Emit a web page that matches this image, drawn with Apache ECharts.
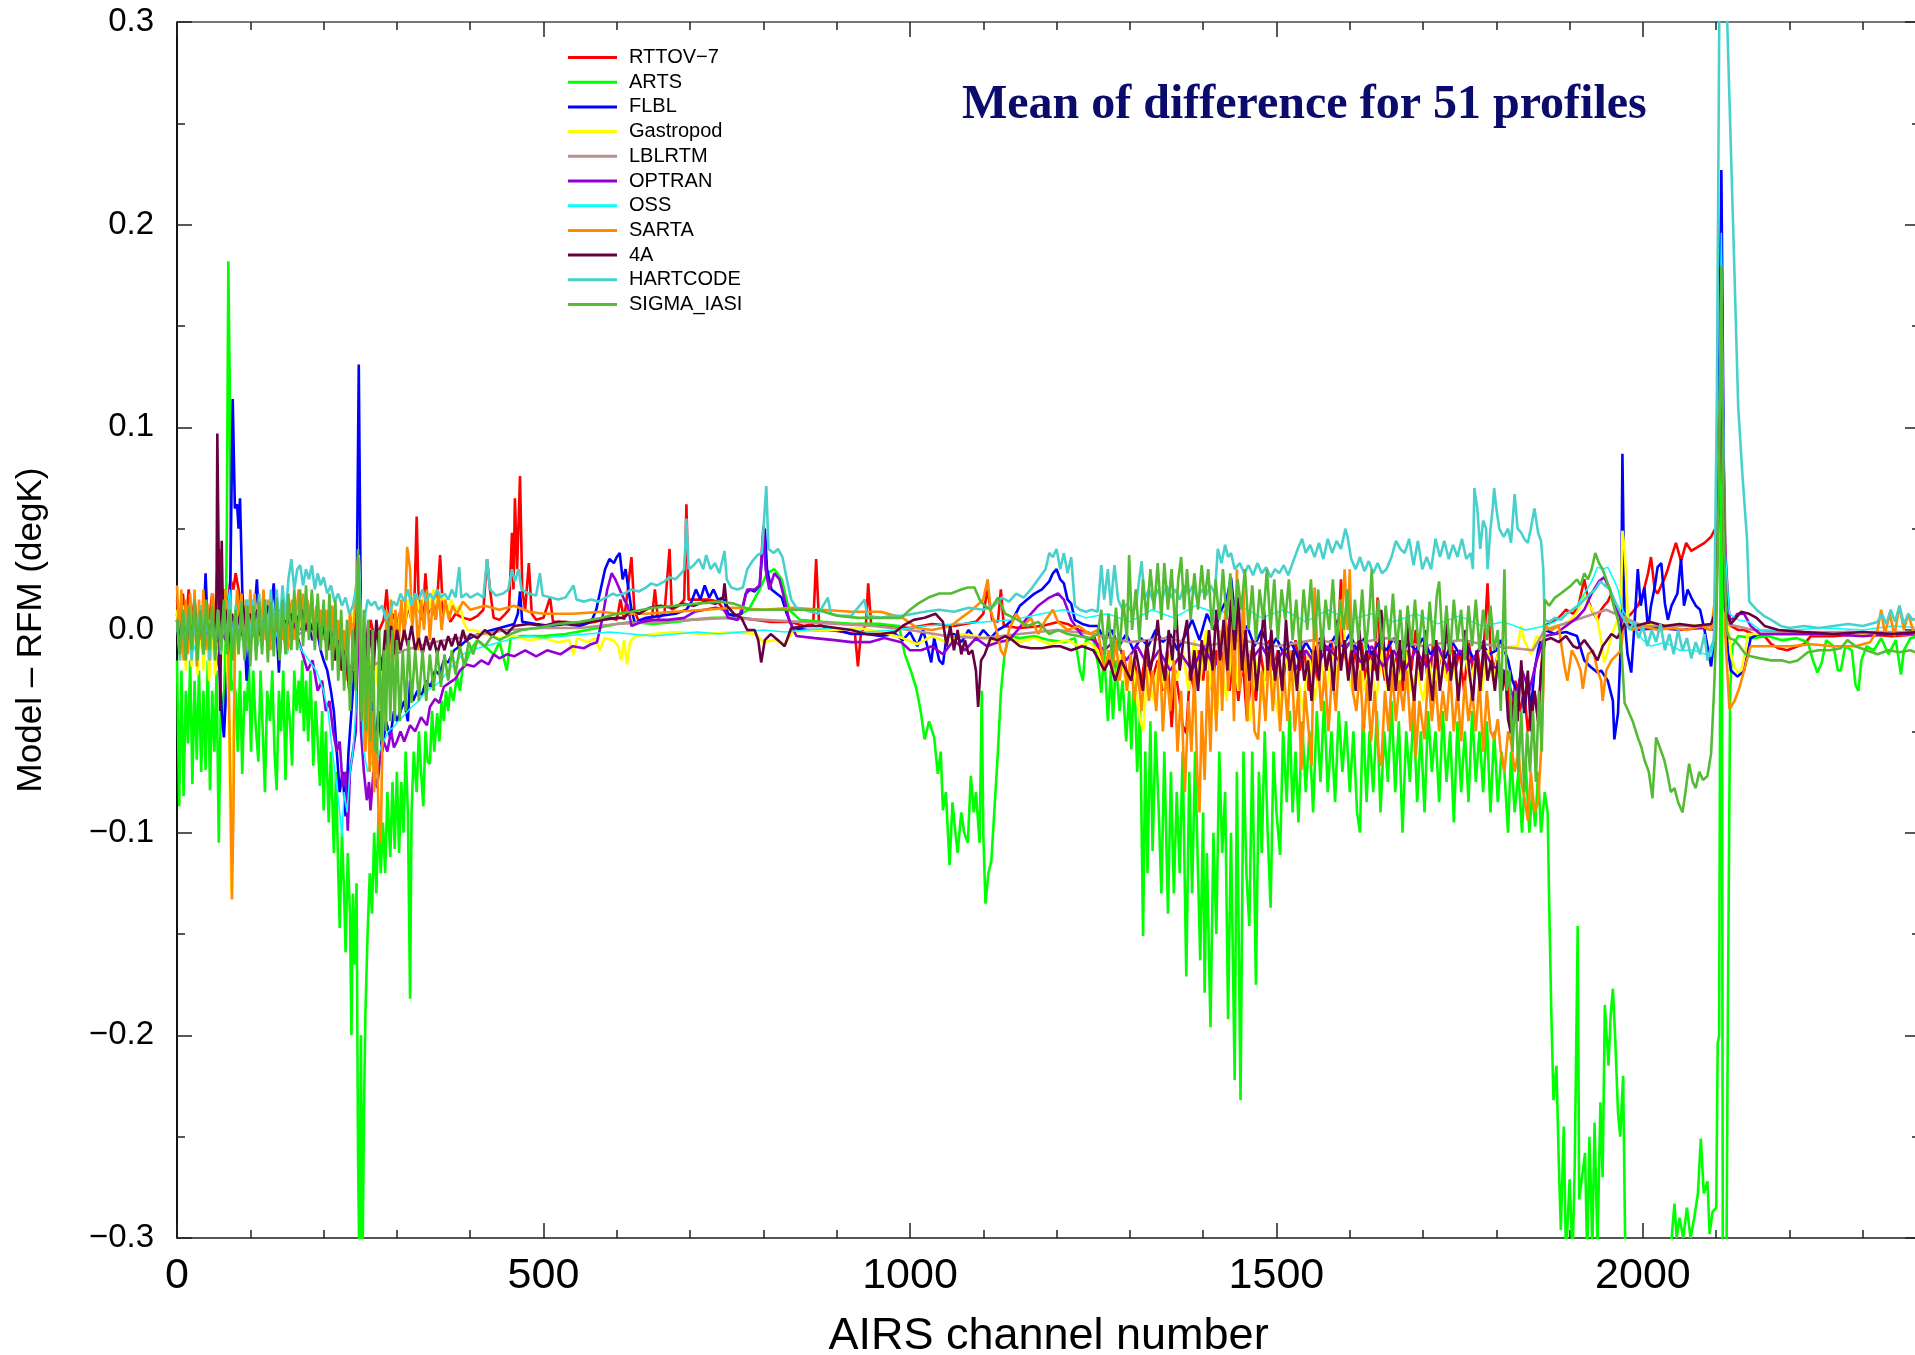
<!DOCTYPE html>
<html>
<head>
<meta charset="utf-8">
<script src="https://cdn.jsdelivr.net/npm/echarts@6/dist/echarts.min.js"></script>
<style>
html,body{margin:0;padding:0;background:#fff;overflow:hidden;}
#chart{width:1915px;height:1355px;}
</style>
</head>
<body>
<div id="chart"></div>
<script>
// ---- axis ticks / labels ----
const xTicks = [0, 500, 1000, 1500, 2000];
const yTicks = [-0.3, -0.2, -0.1, 0.0, 0.1, 0.2, 0.3];
const seriesNames = ['RTTOV\u22127','ARTS','FLBL','Gastropod','LBLRTM','OPTRAN','OSS','SARTA','4A','HARTCODE','SIGMA_IASI'];

// ---- data: [AIRS channel, Model - RFM (degK)] ----
const rttov7 = [[0,0.015],[4,0.0],[8,0.018],[12,0.003],[16,0.02],[20,0.005],[24,0.015],[28,-0.003],[32,0.012],[36,0.0],[40,0.015],[44,0.005],[48,0.018],[52,0.002],[55,0.03],[58,0.04],[61,0.01],[64,0.02],[67,0.005],[70,0.015],[73,0.025],[77,0.02],[80,0.028],[84,0.02],[88,0.012],[92,0.005],[96,0.01],
[100,0.004],[108,0.01],[116,0.005],[124,0.012],[132,0.004],[140,0.01],[148,0.003],[156,0.008],[164,0.002],[172,0.006],[180,0.0],[188,0.005],[196,-0.002],[204,0.004],[212,-0.005],[220,0.002],[228,-0.008],[236,0.0],[244,0.01],[248,0.02],[252,0.0],[258,-0.01],[264,0.005],[270,-0.005],[276,0.0],[282,0.005],[286,0.02],[290,0.0],[295,0.008],[300,0.002],
[305,0.01],[310,0.0],[315,0.012],[320,0.005],[324,0.015],[327,0.056],[330,0.01],[335,0.005],[339,0.028],[343,0.008],[348,0.015],[353,0.005],[359,0.037],[363,0.008],[368,0.012],[373,0.004],[380,0.008],[390,0.006],[400,0.005],[410,0.007],[418,0.01],[423,0.035],[427,0.02],[432,0.006],[440,0.005],[448,0.008],[453,0.01],[457,0.048],[459,0.02],[461,0.065],[464,0.03],[468,0.076],[471,0.02],[475,0.01],[480,0.033],[484,0.008],[490,0.005],[500,0.006],[509,0.016],[513,0.004],[530,0.004],[550,0.003],[570,0.004],[590,0.006],[600,0.005],
[605,0.015],[610,0.005],[615,0.02],[620,0.036],[624,0.01],[630,0.004],[640,0.005],[648,0.006],[652,0.02],[656,0.006],[665,0.008],[672,0.04],[675,0.01],[685,0.012],[692,0.015],[695,0.062],[698,0.015],[710,0.015],[725,0.015],[738,0.014],[750,0.008],[770,0.006],[790,0.005],[810,0.004],[838,0.004],[855,0.002],[868,0.003],[872,0.035],[876,0.003],[890,0.0],[910,-0.001],[925,-0.002],[929,-0.018],[933,-0.002],[940,0.003],[943,0.023],[947,0.003],[970,0.002],[1000,0.001],[1030,0.003],[1060,0.002],[1090,0.004],[1100,0.008],[1106,0.02],[1112,0.005],[1120,0.004],[1124,0.02],[1128,0.002],[1150,0.001],[1180,0.002],[1202,0.004],
[1215,0.003],[1230,0.0],[1250,-0.002],[1258,-0.01],[1266,-0.018],[1274,-0.01],[1282,-0.02],[1290,-0.01],[1298,-0.025],[1306,-0.015],[1314,-0.03],[1322,-0.01],[1330,-0.025],[1338,-0.015],[1345,-0.03],[1351,-0.01],[1357,-0.048],[1362,-0.02],[1368,-0.035],[1372,-0.047],[1377,-0.051],[1382,-0.02],[1388,-0.03],[1394,-0.01],[1400,-0.025],[1406,-0.005],[1412,-0.03],[1418,-0.01],[1424,-0.025],[1430,-0.005],[1436,-0.03],[1442,-0.01],[1448,-0.035],[1454,-0.015],[1460,-0.045],[1466,-0.02],[1472,-0.035],[1478,-0.01],[1484,-0.025],[1490,-0.005],[1496,-0.02],[1502,-0.01],[1508,-0.03],[1514,-0.01],[1520,-0.025],[1526,-0.005],[1532,-0.02],[1538,-0.01],[1544,-0.03],[1550,-0.01],[1556,-0.025],[1562,0.0],[1568,-0.02],[1574,-0.005],[1580,-0.015],[1586,0.01],[1588,0.025],[1592,-0.01],[1598,-0.02],[1604,-0.005],[1610,-0.02],[1616,-0.005],[1622,-0.025],[1628,-0.01],[1634,-0.02],[1638,0.016],[1642,-0.01],[1648,-0.025],[1654,-0.005],[1660,-0.02],[1666,-0.01],[1672,-0.03],[1678,-0.01],[1684,-0.02],[1690,0.0],[1696,-0.02],[1702,-0.01],[1708,-0.03],[1714,-0.005],[1720,-0.02],[1726,-0.01],[1732,-0.025],[1738,-0.005],[1744,-0.02],[1750,-0.01],[1756,-0.03],[1762,-0.005],[1768,-0.02],[1774,-0.01],[1780,-0.025],[1786,0.01],[1788,0.023],[1792,-0.01],[1797,-0.02],[1802,-0.012],[1808,-0.03],[1814,-0.02],[1820,-0.048],[1826,-0.025],[1832,-0.04],[1838,-0.03],[1843,-0.05],[1847,-0.04],[1852,-0.03],[1857,-0.045],[1861,-0.02],[1866,0.002],
[1875,0.004],[1885,0.006],[1895,0.01],[1905,0.008],[1912,0.012],[1920,0.025],[1925,0.015],[1930,0.01],[1938,0.005],[1943,0.01],[1947,0.012],[1952,0.014],[1957,0.018],[1962,0.01],[1968,0.005],[1975,0.005],[1984,0.008],[1993,0.012],[2000,0.018],[2007,0.028],[2011,0.036],[2016,0.02],[2020,0.018],[2025,0.022],[2029,0.025],[2034,0.03],[2038,0.035],[2045,0.043],[2052,0.034],[2059,0.043],[2066,0.039],[2075,0.041],[2084,0.043],[2093,0.046],[2100,0.051],[2107,0.16],[2112,0.03],[2116,0.012],[2120,0.002],[2130,0.0],[2138,0.0],[2150,-0.002],[2166,-0.003],[2175,-0.007],[2185,-0.009],[2197,-0.01],[2211,-0.008],[2220,-0.007],[2229,-0.003],[2260,-0.003],[2300,-0.002],[2340,-0.003],[2378,-0.002]];

const arts = [[0,-0.015],[3,-0.087],[6,-0.02],[9,-0.082],[12,-0.03],[15,-0.056],[18,-0.015],[21,-0.076],[24,-0.025],[27,-0.064],[30,-0.02],[33,-0.07],[36,-0.03],[39,-0.069],[42,-0.015],[45,-0.079],[48,-0.03],[51,-0.06],[54,-0.02],[57,-0.105],[60,-0.03],[63,-0.05],[66,-0.01],[68,0.05],[70,0.182],[72,0.12],[74,-0.03],[77,-0.025],[80,-0.031],
[83,-0.06],[86,-0.02],[89,-0.071],[92,-0.03],[95,-0.04],[98,-0.015],[101,-0.06],[104,-0.02],[107,-0.045],[111,-0.065],[114,-0.02],[117,-0.05],[120,-0.08],[123,-0.03],[127,-0.045],[130,-0.02],[133,-0.06],[136,-0.079],[139,-0.03],[142,-0.05],[145,-0.02],[148,-0.074],[151,-0.03],[154,-0.045],[157,-0.067],[160,-0.02],[163,-0.04],[166,-0.025],[168,-0.041],[171,-0.015],[173,-0.05],[176,-0.025],[179,-0.055],[182,-0.02],[186,-0.067],[189,-0.035],[192,-0.055],[195,-0.077],[198,-0.04],[200,-0.089],
[203,-0.05],[207,-0.095],[210,-0.06],[214,-0.11],[217,-0.07],[220,-0.12],[222,-0.147],[225,-0.1],[228,-0.13],[230,-0.159],[233,-0.11],[236,-0.14],[238,-0.2],[240,-0.13],[242,-0.165],[245,-0.125],[247,-0.26],[249,-0.32],[251,-0.2],[253,-0.32],[255,-0.24],[257,-0.19],[260,-0.15],[263,-0.12],[266,-0.14],[269,-0.1],[272,-0.13],[275,-0.09],[278,-0.12],[281,-0.095],[284,-0.12],[287,-0.08],[291,-0.112],[294,-0.075],[297,-0.108],[300,-0.07],
[303,-0.11],[306,-0.075],[309,-0.1],[312,-0.06],[315,-0.09],[318,-0.182],[320,-0.09],[323,-0.06],[327,-0.08],[330,-0.05],[333,-0.07],[336,-0.087],[339,-0.05],[342,-0.065],[345,-0.066],[348,-0.04],[351,-0.06],[355,-0.041],[358,-0.055],[361,-0.035],[364,-0.045],[367,-0.03],[370,-0.04],[373,-0.028],[377,-0.035],[382,-0.023],[386,-0.03],[390,-0.018],[395,-0.015],[400,-0.01],[410,-0.005],[420,-0.008],[432,-0.012],[440,-0.006],[450,-0.02],[455,-0.004],[470,-0.003],[500,-0.003],[530,-0.002],
[560,0.0],[600,0.003],[620,0.004],[650,0.003],[680,0.004],[700,0.005],[730,0.006],[760,0.006],[780,0.01],[795,0.02],[805,0.028],[815,0.03],[825,0.025],[835,0.01],[850,0.005],[880,0.004],[920,0.003],[960,0.003],[985,0.002],[993,-0.012],[1002,-0.021],[1008,-0.028],[1011,-0.033],[1015,-0.041],[1020,-0.054],[1026,-0.045],[1033,-0.053],[1038,-0.071],[1042,-0.06],[1045,-0.089],[1049,-0.08],[1054,-0.116],[1058,-0.085],[1062,-0.1],[1065,-0.11],[1070,-0.09],[1074,-0.1],[1079,-0.105],[1083,-0.072],[1087,-0.09],[1090,-0.08],[1095,-0.105],[1098,-0.03],[1100,-0.1],[1103,-0.135],[1107,-0.12],[1111,-0.114],[1115,-0.09],[1120,-0.06],[1124,-0.031],[1129,-0.012],[1135,-0.003],
[1150,-0.004],[1170,-0.003],[1190,-0.005],[1210,-0.006],[1225,-0.004],[1232,-0.02],[1236,-0.025],[1240,-0.005],[1250,-0.004],
[1258,-0.02],[1261,-0.031],[1265,-0.01],[1270,-0.045],[1274,-0.02],[1277,-0.044],[1281,-0.015],[1286,-0.04],[1290,-0.025],[1295,-0.055],[1299,-0.03],[1302,-0.059],[1306,-0.02],[1310,-0.07],[1314,-0.04],[1318,-0.151],[1321,-0.06],[1324,-0.12],[1328,-0.045],[1331,-0.109],[1335,-0.05],[1339,-0.085],[1343,-0.13],[1347,-0.06],[1352,-0.14],[1356,-0.07],[1360,-0.13],[1364,-0.08],[1368,-0.12],[1372,-0.06],[1377,-0.171],[1381,-0.07],[1385,-0.13],[1389,-0.06],[1393,-0.12],[1396,-0.163],[1400,-0.09],[1402,-0.179],[1405,-0.11],[1410,-0.196],[1414,-0.1],[1418,-0.15],[1422,-0.06],[1426,-0.11],[1430,-0.08],[1434,-0.192],[1438,-0.1],[1443,-0.222],[1446,-0.07],[1451,-0.232],[1455,-0.06],[1459,-0.12],[1463,-0.146],[1467,-0.06],[1472,-0.175],[1476,-0.07],[1480,-0.11],[1484,-0.05],[1488,-0.1],[1492,-0.137],[1496,-0.06],[1500,-0.09],[1505,-0.111],[1509,-0.05],[1514,-0.085],[1518,-0.04],[1522,-0.09],[1526,-0.06],[1530,-0.095],[1535,-0.045],[1540,-0.08],[1545,-0.05],[1550,-0.09],[1555,-0.04],[1560,-0.075],[1565,-0.035],[1570,-0.08],[1575,-0.05],[1580,-0.085],[1585,-0.04],[1590,-0.07],[1595,-0.045],[1600,-0.08],[1605,-0.05],[1610,-0.09],[1614,-0.1],[1618,-0.04],[1623,-0.085],[1627,-0.05],[1632,-0.08],[1637,-0.04],[1642,-0.09],[1647,-0.05],[1652,-0.075],[1657,-0.035],[1662,-0.08],[1667,-0.045],[1672,-0.1],[1677,-0.05],[1682,-0.075],[1687,-0.04],[1692,-0.085],[1697,-0.05],[1702,-0.09],[1707,-0.04],[1712,-0.07],[1717,-0.05],[1722,-0.085],[1727,-0.04],[1732,-0.075],[1737,-0.05],[1742,-0.095],[1747,-0.045],[1752,-0.08],[1757,-0.05],[1762,-0.085],[1767,-0.04],[1772,-0.075],[1777,-0.05],[1782,-0.08],[1787,-0.045],[1792,-0.09],[1797,-0.05],[1802,-0.085],[1807,-0.06],[1811,-0.07],[1816,-0.1],[1820,-0.06],[1825,-0.09],[1830,-0.07],[1835,-0.1],[1840,-0.065],[1845,-0.1],[1849,-0.08],[1853,-0.097],[1857,-0.07],[1861,-0.1],[1866,-0.08],[1870,-0.09],
[1872,-0.133],[1875,-0.189],[1878,-0.232],[1882,-0.215],[1885,-0.26],[1888,-0.296],[1892,-0.245],[1895,-0.31],[1900,-0.271],[1904,-0.31],[1907,-0.263],[1911,-0.146],[1913,-0.281],[1917,-0.27],[1921,-0.258],[1924,-0.31],[1927,-0.25],[1931,-0.305],[1934,-0.243],[1938,-0.305],[1942,-0.233],[1945,-0.27],[1948,-0.185],[1953,-0.215],[1956,-0.19],[1959,-0.177],[1962,-0.2],[1966,-0.238],[1969,-0.25],[1973,-0.22],[1976,-0.31],[1990,-0.33],[2010,-0.33],[2030,-0.32],[2038,-0.305],[2043,-0.283],[2046,-0.3],[2050,-0.29],[2055,-0.3],[2060,-0.285],[2065,-0.3],[2070,-0.29],[2075,-0.278],[2079,-0.251],[2083,-0.278],[2088,-0.272],[2091,-0.298],[2095,-0.287],[2100,-0.285],[2102,-0.204],[2104,-0.2],[2107,0.185],[2109,-0.31],[2114,-0.31],[2116,-0.183],[2119,-0.03],[2122,-0.008],
[2130,-0.003],[2150,-0.004],[2170,-0.003],[2190,-0.005],[2210,-0.004],[2225,-0.006],[2232,-0.015],[2238,-0.021],[2244,-0.016],[2250,-0.005],[2260,-0.008],[2266,-0.02],[2270,-0.02],[2276,-0.008],[2285,-0.01],[2290,-0.027],[2294,-0.03],[2298,-0.015],[2305,-0.008],[2315,-0.01],[2325,-0.004],[2335,-0.012],[2345,-0.005],[2352,-0.022],[2356,-0.01],[2365,-0.004],[2378,-0.003]];

const flbl = [[0,0.008],[4,-0.005],[8,0.01],[12,-0.008],[16,0.006],[20,-0.01],[24,0.005],[28,-0.006],[32,0.008],[36,0.0],[39,0.028],[42,0.0],[46,-0.01],[50,0.005],[54,-0.008],[58,-0.02],[61,-0.04],[64,-0.053],[67,-0.03],[70,-0.01],[73,0.03],[76,0.114],[79,0.06],[82,0.062],[84,0.05],[86,0.065],[89,0.02],[92,0.0],[95,-0.025],[98,-0.01],
[102,0.0],[106,0.01],[109,0.025],[112,0.005],[118,0.008],[124,0.0],[128,0.01],[132,0.023],[136,0.0],[139,-0.021],[142,0.0],[148,0.005],[155,0.0],[162,0.006],[170,0.0],[178,0.004],[185,-0.005],[191,0.0],
[196,-0.01],[200,-0.015],[205,-0.02],[210,-0.03],[214,-0.04],[218,-0.06],[222,-0.08],[226,-0.07],[230,-0.092],[234,-0.06],[238,-0.04],[242,-0.02],[245,0.01],[248,0.131],[251,0.0],[254,-0.04],[258,-0.03],[262,-0.05],[266,-0.035],[270,-0.055],[275,-0.04],[280,-0.06],[285,-0.045],[291,-0.053],[296,-0.04],[300,-0.045],
[305,-0.04],[310,-0.035],[315,-0.045],[318,-0.025],[322,-0.035],[328,-0.03],[334,-0.032],[340,-0.025],[346,-0.028],[352,-0.02],[358,-0.022],[364,-0.015],[370,-0.016],[378,-0.01],[386,-0.008],[395,-0.005],[405,-0.003],[420,-0.001],[440,0.001],[460,0.003],[465,0.008],[468,0.019],[471,0.004],[490,0.003],[510,0.002],[530,0.003],[550,0.002],[565,0.004],[572,0.01],[578,0.02],[584,0.03],[590,0.035],[596,0.033],[600,0.036],
[604,0.038],[608,0.025],[612,0.03],[616,0.02],[620,0.01],[625,0.003],[632,0.005],[640,0.006],[660,0.007],[680,0.008],[695,0.01],[702,0.014],[708,0.02],[714,0.015],[720,0.022],[726,0.016],[732,0.02],[738,0.015],[745,0.016],[752,0.008],[760,0.007],[770,0.008],[776,0.018],[782,0.02],[788,0.019],[795,0.022],[799,0.04],[802,0.05],[805,0.03],[811,0.02],[818,0.018],[825,0.016],[832,0.008],[840,0.001],[860,0.0],[880,0.0],[900,0.0],[920,-0.002],[940,-0.002],[960,-0.003],[980,-0.002],[990,-0.005],[1000,-0.001],[1010,-0.008],[1018,0.0],[1025,-0.01],[1029,-0.016],[1033,-0.004],[1040,-0.015],[1045,-0.017],[1050,-0.003],[1060,-0.002],[1070,-0.006],[1080,0.0],[1090,-0.005],[1100,0.0],[1110,-0.004],[1120,0.0],[1130,0.002],[1140,0.005],[1150,0.012],[1160,0.015],[1170,0.018],[1180,0.02],[1190,0.024],[1195,0.028],[1200,0.03],
[1205,0.025],[1210,0.023],[1215,0.015],[1220,0.013],[1225,0.005],[1235,0.003],[1245,0.002],[1256,0.002],[1265,-0.005],[1275,0.0],[1285,-0.008],[1295,-0.002],[1305,-0.01],[1315,-0.004],[1325,-0.008],[1335,0.0],[1345,-0.006],[1355,-0.002],[1365,-0.01],[1375,-0.003],[1385,0.005],[1395,-0.005],[1405,0.008],[1415,0.0],[1425,0.01],[1432,0.015],[1438,0.026],[1444,0.005],[1450,-0.004],[1460,0.002],[1470,-0.008],[1480,0.0],[1490,-0.01],[1500,-0.004],[1510,-0.012],[1520,-0.006],[1530,-0.014],[1540,-0.006],[1550,-0.012],[1560,-0.004],[1570,-0.01],[1580,-0.003],[1590,-0.008],[1600,-0.002],[1610,-0.01],[1620,-0.004],[1630,-0.012],[1640,-0.006],[1650,-0.01],[1660,-0.004],[1670,-0.012],[1680,-0.006],[1690,-0.01],[1700,-0.004],[1710,-0.012],[1720,-0.008],[1730,-0.014],[1740,-0.006],[1750,-0.012],[1760,-0.008],[1770,-0.015],[1780,-0.006],[1790,-0.012],[1800,-0.01],[1806,-0.005],[1811,-0.01],[1816,-0.015],[1822,-0.025],[1829,-0.031],[1834,-0.02],[1838,-0.041],[1843,-0.025],[1847,-0.04],[1852,-0.02],[1857,-0.01],[1861,-0.004],[1866,0.0],
[1880,-0.002],[1895,-0.001],[1910,-0.003],[1920,-0.015],[1928,-0.018],[1938,-0.021],[1943,-0.02],[1952,-0.025],[1959,-0.035],[1961,-0.054],[1966,-0.041],[1970,-0.005],[1972,0.087],[1975,0.005],[1979,-0.012],[1984,-0.021],[1988,0.0],[1993,0.03],[1997,0.012],[2002,0.021],[2007,0.0],[2011,0.012],[2016,0.021],[2020,0.031],[2025,0.033],[2030,0.013],[2034,0.005],[2039,0.012],[2047,0.018],[2052,0.035],[2056,0.012],[2061,0.02],[2066,0.016],[2072,0.012],[2078,0.01],[2084,0.0],[2088,-0.008],[2093,-0.018],[2097,-0.005],[2102,0.05],[2107,0.227],[2111,0.05],[2116,-0.01],[2120,-0.02],[2129,-0.023],[2138,-0.02],[2147,-0.004],[2157,-0.002],[2188,-0.002],[2230,-0.002],[2280,-0.001],[2330,-0.002],[2378,-0.001]];

const gastropod = [[0,0.01],[4,-0.015],[8,0.012],[12,-0.02],[16,0.008],[20,-0.018],[24,0.01],[28,-0.022],[32,0.005],[36,-0.02],[40,0.008],[44,-0.025],[48,0.005],[52,-0.022],[56,0.0],[60,-0.015],[64,0.005],[68,-0.01],[71,-0.05],[74,-0.13],[77,-0.05],[80,0.0],[85,0.01],[90,-0.005],[95,0.008],[100,-0.003],
[108,0.006],[116,-0.004],[124,0.006],[132,-0.005],[140,0.008],[148,-0.005],[156,0.01],[164,-0.004],[172,0.01],[180,0.0],[188,0.01],[196,-0.002],[204,0.006],[212,-0.006],[220,0.004],[228,-0.01],[236,0.0],[242,0.01],[246,0.03],[248,0.037],[250,0.01],[253,-0.005],[257,-0.02],[261,-0.01],[265,-0.025],[270,-0.015],[275,-0.03],[280,-0.035],[284,-0.02],[288,0.0],[292,-0.01],[296,0.005],[300,-0.005],
[305,0.01],[310,0.0],[315,0.015],[320,0.005],[326,0.018],[332,0.008],[338,0.018],[344,0.01],[350,0.02],[356,0.01],[362,0.018],[368,0.008],[374,0.015],[380,0.01],[386,0.012],[391,0.004],[396,0.0],[405,0.0],[420,-0.002],[440,-0.004],[460,-0.003],[480,-0.005],[500,-0.004],[520,-0.006],[535,-0.005],[541,-0.012],[546,-0.004],[560,-0.006],[570,-0.004],[577,-0.01],[583,-0.004],[595,-0.005],
[602,-0.008],[606,-0.015],[610,-0.005],[614,-0.017],[618,-0.006],[625,-0.003],[650,-0.002],[680,-0.001],[720,-0.002],[760,-0.001],[790,-0.002],[800,-0.006],[815,-0.005],[829,-0.007],[840,-0.001],[870,0.0],[900,0.0],[930,0.001],[960,-0.001],[990,-0.004],[1010,-0.007],[1030,-0.003],[1050,-0.006],[1070,-0.002],[1090,-0.003],[1110,-0.005],[1130,-0.003],[1150,-0.006],[1170,-0.004],[1190,-0.007],[1202,-0.006],
[1215,-0.005],[1230,-0.008],[1245,-0.006],[1256,-0.01],[1264,-0.02],[1272,-0.01],[1280,-0.025],[1288,-0.012],[1296,-0.03],[1304,-0.015],[1312,-0.04],[1318,-0.05],[1324,-0.02],[1332,-0.035],[1340,-0.015],[1348,-0.03],[1356,-0.01],[1364,-0.025],[1372,-0.01],[1380,-0.03],[1388,-0.005],[1396,-0.025],[1404,0.0],[1412,-0.03],[1418,-0.045],[1424,-0.015],[1432,-0.035],[1440,-0.005],[1448,-0.03],[1456,-0.01],[1464,-0.045],[1472,-0.015],[1480,-0.035],[1488,-0.01],[1496,-0.03],[1504,-0.045],[1512,-0.01],[1520,-0.03],[1528,-0.02],[1536,-0.04],[1544,-0.01],[1552,-0.035],[1560,-0.015],[1568,-0.03],[1576,-0.01],[1584,-0.025],[1590,0.015],[1596,-0.02],[1604,-0.03],[1612,-0.01],[1620,-0.03],[1628,-0.015],[1636,-0.035],[1644,-0.01],[1652,-0.03],[1660,-0.015],[1668,-0.025],[1676,-0.01],[1684,-0.03],[1692,-0.02],[1700,-0.035],[1708,-0.015],[1716,-0.03],[1724,-0.01],[1732,-0.025],[1740,-0.015],[1748,-0.03],[1756,-0.01],[1764,-0.025],[1772,-0.015],[1780,-0.03],[1788,-0.01],[1796,-0.025],[1802,-0.012],[1811,-0.01],[1820,-0.008],[1829,-0.008],[1834,0.002],[1838,-0.005],[1847,-0.012],[1855,-0.003],[1861,-0.005],[1866,0.0],
[1880,0.002],[1893,0.003],[1905,0.006],[1912,0.01],[1920,0.018],[1927,0.012],[1934,0.008],[1938,0.005],[1943,-0.005],[1947,-0.016],[1952,-0.01],[1957,-0.003],[1965,0.005],[1970,0.012],[1972,0.049],[1975,0.04],[1980,0.004],[1993,0.003],[2020,0.002],[2050,0.003],[2080,0.002],[2097,0.003],[2102,0.05],[2107,0.14],[2112,0.02],[2120,-0.012],[2125,-0.018],[2129,-0.021],[2134,-0.02],[2140,-0.01],[2143,-0.002],[2160,-0.002],[2200,-0.002],[2250,-0.002],[2300,-0.002],[2340,-0.002],[2378,-0.002]];

const lblrtm = [[0,0.002],[20,-0.004],[40,0.004],[60,-0.003],[80,0.004],[100,-0.002],[130,0.003],[160,-0.003],[190,0.002],[220,-0.01],[240,-0.02],[248,0.02],[255,-0.02],[280,-0.015],[310,-0.01],[350,-0.006],[400,-0.003],[450,0.0],[500,0.001],[550,0.001],[600,0.003],[650,0.004],[700,0.005],[750,0.006],[800,0.005],[850,0.004],[900,0.003],[950,0.002],[1000,0.0],[1050,-0.003],[1100,-0.004],[1150,-0.002],[1200,0.0],[1250,-0.002],[1300,-0.006],[1350,-0.004],[1400,-0.008],[1450,-0.005],[1500,-0.008],[1550,-0.005],[1600,-0.007],[1650,-0.004],[1700,-0.008],[1750,-0.005],[1800,-0.008],[1850,-0.01],[1866,0.0],[1900,0.004],[1950,0.01],[2000,0.002],[2050,0.002],[2097,0.002],[2107,0.14],[2115,0.003],[2150,0.0],[2200,-0.001],[2300,-0.001],[2378,-0.001]];

const optran = [[0,0.005],[6,-0.005],[12,0.006],[18,-0.006],[24,0.004],[30,-0.004],[36,0.006],[42,-0.005],[48,0.004],[54,-0.006],[60,0.003],[66,-0.005],[72,0.005],[78,0.0],[84,0.006],[90,-0.004],[96,0.005],[102,-0.004],[108,0.005],[114,-0.003],[120,0.004],[130,-0.004],[140,0.003],[150,-0.005],[160,0.002],[170,-0.01],[178,-0.02],[185,-0.015],[192,-0.03],[198,-0.025],
[203,-0.04],[208,-0.035],[213,-0.05],[218,-0.06],[222,-0.055],[226,-0.077],[230,-0.07],[233,-0.099],[236,-0.07],[240,-0.06],[244,-0.05],[248,0.02],[251,-0.05],[255,-0.07],[259,-0.084],[262,-0.075],[264,-0.089],[268,-0.07],[273,-0.078],[278,-0.06],[282,-0.055],[287,-0.06],[292,-0.05],[296,-0.058],[300,-0.055],[305,-0.05],[310,-0.055],[318,-0.047],[325,-0.05],[333,-0.043],[341,-0.047],[345,-0.038],[352,-0.034],[358,-0.036],[364,-0.028],[372,-0.026],[380,-0.024],[386,-0.02],[395,-0.017],[405,-0.018],[415,-0.015],[425,-0.017],[432,-0.012],[440,-0.014],[450,-0.012],[460,-0.013],[475,-0.01],[490,-0.013],[505,-0.01],[523,-0.012],[540,-0.008],[555,-0.009],[565,-0.007],[573,-0.006],[580,0.005],[587,0.02],[593,0.028],[598,0.025],
[604,0.02],[610,0.015],[615,0.012],[620,0.002],[634,0.004],[650,0.005],[670,0.005],[692,0.006],[706,0.009],[720,0.01],[735,0.011],[747,0.01],[752,0.006],[765,0.005],[772,0.012],[778,0.02],[788,0.02],[795,0.022],[800,0.051],[803,0.03],[808,0.02],[815,0.028],[822,0.025],[829,0.015],[835,0.005],[845,-0.003],[870,-0.004],[897,-0.005],[920,-0.006],[945,-0.006],[965,-0.004],[988,-0.006],[1000,-0.01],[1015,-0.01],[1030,-0.008],[1045,-0.012],[1060,-0.005],[1075,-0.01],[1090,-0.004],[1105,-0.008],[1120,-0.006],[1135,-0.005],[1147,0.0],[1160,0.006],[1175,0.012],[1190,0.016],[1202,0.018],
[1210,0.015],[1220,0.005],[1235,-0.003],[1250,-0.005],[1265,-0.01],[1280,-0.005],[1295,-0.015],[1310,-0.008],[1325,-0.018],[1340,-0.01],[1355,-0.02],[1370,-0.012],[1385,-0.02],[1400,-0.008],[1415,-0.018],[1430,-0.01],[1440,0.015],[1450,-0.005],[1465,-0.015],[1480,-0.008],[1495,-0.018],[1510,-0.01],[1525,-0.02],[1540,-0.01],[1555,-0.018],[1570,-0.008],[1585,-0.015],[1600,-0.006],[1615,-0.016],[1630,-0.008],[1645,-0.018],[1660,-0.01],[1675,-0.02],[1690,-0.01],[1705,-0.018],[1720,-0.008],[1735,-0.02],[1750,-0.01],[1765,-0.016],[1780,-0.008],[1795,-0.018],[1810,-0.02],[1825,-0.035],[1835,-0.02],[1845,-0.03],[1855,-0.015],[1866,-0.003],
[1880,-0.002],[1895,0.002],[1910,0.006],[1920,0.01],[1930,0.018],[1940,0.024],[1947,0.026],[1955,0.02],[1962,0.012],[1970,0.005],[1978,0.002],[1993,0.0],[2020,0.001],[2050,0.0],[2080,0.001],[2097,0.0],[2102,0.05],[2107,0.15],[2112,0.04],[2118,0.005],[2125,0.006],[2129,0.008],[2138,0.008],[2147,0.002],[2160,-0.002],[2200,-0.002],[2250,-0.002],[2300,-0.003],[2340,-0.002],[2378,-0.002]];

const oss = [[0,0.0],[8,-0.008],[16,0.005],[24,-0.01],[32,0.004],[40,-0.008],[48,0.004],[56,-0.01],[64,0.0],[72,0.02],[76,-0.01],[84,0.0],[92,-0.008],[100,0.004],[110,-0.008],[120,0.005],[130,-0.01],[140,0.004],[150,-0.012],[160,0.0],[170,-0.01],[180,-0.015],[190,-0.02],[200,-0.03],[206,-0.04],[212,-0.06],[218,-0.077],[222,-0.09],[225,-0.102],[228,-0.08],[232,-0.09],[236,-0.07],[240,-0.06],[244,-0.04],[248,0.03],[251,-0.03],[255,-0.06],[260,-0.07],[265,-0.065],[270,-0.07],[276,-0.06],[282,-0.055],[288,-0.05],[295,-0.048],[302,-0.045],[310,-0.042],[320,-0.038],[330,-0.035],[340,-0.03],[350,-0.028],[360,-0.025],[370,-0.02],[380,-0.016],[390,-0.012],[400,-0.01],[420,-0.008],[440,-0.006],[460,-0.004],[480,-0.003],[500,-0.004],[530,-0.003],[560,-0.002],[590,-0.001],
[620,-0.002],[650,-0.003],[680,-0.002],[710,-0.001],[740,-0.002],[770,-0.001],[800,0.0],[830,-0.001],[860,0.0],[900,0.001],[940,-0.001],[980,0.0],[1020,0.002],[1060,0.003],[1100,0.004],[1140,0.005],[1180,0.008],[1210,0.01],[1240,0.006],[1270,0.008],[1300,0.004],[1330,0.01],[1360,0.006],[1390,0.012],[1420,0.008],[1450,0.012],[1480,0.006],[1510,0.01],[1540,0.004],[1570,0.01],[1600,0.005],[1630,0.008],[1660,0.004],[1690,0.008],[1720,0.003],[1750,0.007],[1780,0.002],[1810,0.004],[1840,0.0],[1866,0.002],
[1880,0.004],[1895,0.008],[1910,0.012],[1920,0.018],[1930,0.024],[1938,0.031],[1945,0.03],[1952,0.031],[1960,0.025],[1966,0.02],[1972,0.01],[1980,0.005],[1990,0.0],[2000,-0.005],[2011,-0.008],[2030,-0.006],[2050,-0.01],[2070,-0.01],[2093,-0.013],[2100,0.0],[2107,0.196],[2112,0.04],[2118,0.008],[2130,0.005],[2145,0.004],[2160,0.0],[2200,0.0],[2250,0.001],[2300,0.0],[2340,0.002],[2378,0.001]];

const sarta = [[0,0.022],[3,-0.005],[6,0.02],[9,-0.015],[12,0.015],[15,-0.012],[18,0.018],[21,-0.01],[24,0.02],[27,-0.018],[30,0.015],[33,-0.005],[36,0.02],[39,-0.01],[42,0.012],[45,-0.015],[48,0.018],[51,0.0],[54,0.025],[57,0.005],[60,0.03],[63,0.0],[66,0.02],[70,-0.01],[73,-0.08],[75,-0.133],[77,-0.09],[79,0.0],
[82,0.02],[85,0.005],[88,0.018],[91,-0.005],[94,0.015],[97,-0.01],[100,0.02],[103,0.0],[106,0.018],[109,-0.008],[112,0.015],[115,0.0],[118,0.02],[121,-0.005],[124,0.015],[127,-0.01],[130,0.012],[133,0.0],[136,0.015],[139,-0.01],[142,0.01],[145,-0.005],[148,0.012],[151,-0.01],[154,0.008],[157,0.015],[160,-0.005],[163,0.01],[166,0.02],[169,0.005],[172,0.018],[175,0.0],[178,0.015],[181,0.005],[184,0.018],[187,-0.005],[190,0.012],[193,0.0],[196,0.01],[200,-0.005],
[204,0.01],[208,-0.01],[212,0.012],[216,-0.015],[220,0.005],[224,-0.02],[228,0.0],[232,-0.025],[236,0.01],[240,-0.01],[244,0.02],[247,0.036],[249,0.01],[251,-0.04],[254,-0.02],[257,-0.06],[260,-0.03],[263,-0.07],[266,-0.04],[269,-0.08],[272,-0.05],[275,-0.09],[278,-0.105],[280,-0.06],[283,-0.02],[286,0.01],[289,-0.02],[292,0.015],[295,-0.015],[298,0.01],
[302,-0.01],[306,0.015],[310,-0.005],[314,0.041],[318,0.03],[321,0.0],[325,0.018],[329,-0.01],[333,0.015],[337,0.0],[341,0.02],[345,-0.005],[349,0.015],[353,0.005],[357,0.018],[361,0.0],[366,0.015],[371,0.005],[376,0.012],[382,0.008],[390,0.014],[400,0.01],[420,0.012],[440,0.01],[460,0.012],[480,0.009],[500,0.008],[540,0.008],[580,0.009],[600,0.008],
[640,0.008],[680,0.009],[720,0.01],[760,0.011],[800,0.01],[840,0.011],[880,0.01],[920,0.009],[960,0.009],[990,0.006],[1010,0.001],[1030,0.0],[1056,0.002],[1070,0.006],[1085,0.01],[1100,0.015],[1106,0.025],[1110,0.01],[1118,0.0],[1124,-0.01],[1129,-0.013],[1135,0.0],[1145,0.008],[1155,0.002],[1165,0.006],[1175,-0.002],[1185,0.005],[1195,0.01],[1202,0.004],
[1215,0.0],[1230,0.002],[1245,-0.002],[1256,0.0],[1261,-0.01],[1266,-0.02],[1271,-0.01],[1276,-0.02],[1281,-0.005],[1286,-0.025],[1291,-0.01],[1296,-0.03],[1301,-0.012],[1306,-0.035],[1311,-0.02],[1316,-0.04],[1321,-0.015],[1326,-0.035],[1331,-0.02],[1336,-0.04],[1341,-0.01],[1345,-0.05],[1350,-0.02],[1355,-0.04],[1360,-0.015],[1365,-0.06],[1370,-0.03],[1375,-0.08],[1380,-0.035],[1384,-0.06],[1388,-0.02],[1392,-0.07],[1395,-0.09],[1398,-0.04],[1402,-0.074],[1406,-0.02],[1410,-0.06],[1414,-0.01],[1418,-0.05],[1422,0.0],[1426,-0.04],[1430,0.01],[1434,-0.03],[1438,0.02],[1442,-0.045],[1446,0.03],[1450,-0.03],[1455,0.02],[1460,-0.045],[1465,-0.01],[1470,-0.05],[1475,-0.054],[1480,-0.02],[1485,-0.045],[1490,-0.01],[1495,-0.04],[1500,-0.015],[1505,-0.05],[1510,-0.02],[1515,-0.045],[1520,-0.01],[1525,-0.05],[1530,-0.03],[1534,-0.069],[1539,-0.03],[1544,-0.05],[1548,-0.067],[1552,0.021],[1556,-0.01],[1561,-0.04],[1566,-0.02],[1571,-0.05],[1576,-0.02],[1581,-0.04],[1586,-0.01],[1590,0.01],[1593,0.03],[1597,0.0],[1600,0.03],[1604,-0.03],[1609,-0.04],[1614,-0.02],[1619,-0.05],[1624,-0.025],[1629,-0.055],[1634,-0.03],[1639,-0.06],[1643,-0.067],[1648,-0.03],[1653,-0.05],[1658,-0.02],[1663,-0.045],[1668,-0.025],[1673,-0.04],[1678,-0.02],[1683,-0.05],[1688,-0.03],[1690,-0.063],[1695,-0.035],[1702,-0.054],[1707,-0.02],[1712,-0.045],[1717,-0.025],[1722,-0.05],[1727,-0.03],[1732,-0.045],[1737,-0.02],[1742,-0.05],[1747,-0.03],[1752,-0.055],[1757,-0.025],[1762,-0.045],[1767,-0.03],[1772,-0.05],[1777,-0.025],[1782,-0.06],[1787,-0.03],[1792,-0.05],[1797,-0.054],[1802,-0.044],[1806,-0.06],[1811,-0.07],[1816,-0.05],[1820,-0.055],[1825,-0.07],[1830,-0.06],[1834,-0.075],[1838,-0.082],[1843,-0.094],[1847,-0.07],[1852,-0.09],[1857,-0.085],[1861,-0.06],[1864,-0.03],[1866,0.002],
[1875,0.0],[1885,0.002],[1893,-0.018],[1897,-0.025],[1903,-0.01],[1910,-0.015],[1915,-0.02],[1918,-0.029],[1925,-0.012],[1932,-0.01],[1938,-0.02],[1943,-0.025],[1945,-0.035],[1950,-0.02],[1957,-0.015],[1965,-0.012],[1970,-0.01],[1975,0.007],[1985,0.0],[2000,0.002],[2020,0.0],[2040,0.001],[2060,0.0],[2080,0.002],[2093,0.0],[2100,0.02],[2107,0.14],[2112,0.0],[2118,-0.039],[2125,-0.035],[2132,-0.028],[2138,-0.02],[2147,-0.008],[2170,-0.008],[2200,-0.008],[2230,-0.007],[2260,-0.008],[2290,-0.008],[2310,-0.006],[2320,0.0],[2325,0.01],[2330,-0.002],[2337,0.008],[2343,-0.003],[2350,0.012],[2356,0.0],[2362,0.008],[2370,-0.002],[2378,0.005]];

const a4 = [[0,0.005],[4,-0.008],[8,0.008],[12,-0.01],[16,0.005],[20,-0.005],[24,0.01],[28,-0.008],[32,0.006],[36,-0.01],[40,0.004],[44,-0.006],[48,0.008],[52,-0.01],[54,0.02],[55,0.097],[57,0.03],[59,-0.04],[61,0.044],[63,0.0],[66,0.01],[70,-0.005],[75,0.008],[80,0.0],[85,0.006],[90,0.012],[95,0.0],[100,0.008],[105,0.004],[110,0.01],[115,0.0],[120,0.006],[125,0.012],[130,0.002],[135,0.01],[140,0.004],[145,0.012],[150,0.003],[155,0.008],[160,0.001],[165,0.006],[170,0.01],[175,0.0],[180,0.005],[185,0.0],[190,0.004],
[195,-0.005],[200,0.002],[205,-0.01],[210,0.0],[215,-0.015],[220,-0.005],[225,-0.02],[230,-0.01],[235,-0.03],[240,-0.015],[245,0.005],[248,0.025],[250,0.0],[253,-0.01],[256,0.005],[260,-0.015],[264,0.0],[268,-0.02],[272,0.005],[276,-0.01],[280,-0.02],[284,0.0],[288,-0.01],[292,0.002],[296,-0.012],[300,0.0],
[305,-0.01],[310,0.0],[315,-0.008],[320,0.002],[325,-0.01],[330,-0.004],[335,-0.012],[340,-0.003],[345,-0.01],[350,-0.004],[355,-0.012],[360,-0.005],[365,-0.01],[370,-0.003],[375,-0.008],[380,-0.002],[385,-0.009],[390,0.0],[395,-0.006],[400,-0.002],[410,-0.004],[420,0.0],[430,-0.003],[440,0.001],[450,-0.002],[460,0.002],[480,0.003],[500,0.002],[520,0.004],[540,0.003],[560,0.004],[580,0.005],[600,0.006],
[610,0.006],[620,0.01],[630,0.008],[645,0.011],[660,0.012],[675,0.011],[690,0.013],[705,0.012],[720,0.014],[735,0.013],[745,0.016],[747,0.023],[750,0.012],[760,0.008],[770,0.006],[778,0.0],[788,0.0],[793,-0.005],[797,-0.016],[802,-0.005],[810,-0.002],[820,-0.005],[829,-0.008],[838,0.001],[860,0.002],[880,0.002],[900,0.001],[920,0.0],[940,-0.002],[960,-0.002],[980,-0.001],[990,0.002],[1005,0.005],[1020,0.006],[1035,0.008],[1045,0.004],[1050,-0.008],[1055,0.002],[1060,-0.01],[1065,0.0],[1070,-0.012],[1075,-0.005],[1080,-0.012],[1085,-0.01],[1090,-0.02],[1093,-0.038],[1097,-0.015],[1102,-0.012],[1110,-0.004],[1120,-0.005],[1130,-0.003],[1140,-0.005],[1150,-0.008],[1165,-0.009],[1180,-0.009],[1195,-0.008],[1205,-0.008],
[1220,-0.01],[1235,-0.008],[1250,-0.01],[1258,-0.015],[1265,-0.02],[1272,-0.015],[1280,-0.025],[1288,-0.015],[1295,-0.02],[1302,-0.025],[1308,-0.01],[1313,-0.02],[1318,-0.03],[1323,-0.005],[1328,-0.02],[1333,-0.01],[1338,0.005],[1343,-0.015],[1348,-0.025],[1353,0.0],[1358,-0.015],[1363,0.01],[1368,-0.02],[1373,-0.005],[1378,0.005],[1383,-0.025],[1388,-0.01],[1393,-0.03],[1398,-0.005],[1403,-0.02],[1408,0.0],[1413,-0.02],[1418,0.01],[1423,-0.015],[1428,0.005],[1433,-0.02],[1438,0.015],[1443,-0.01],[1448,0.016],[1453,-0.02],[1458,0.0],[1463,-0.025],[1468,-0.005],[1473,-0.03],[1478,-0.01],[1483,0.01],[1488,-0.02],[1493,0.0],[1498,-0.025],[1503,-0.01],[1508,-0.03],[1513,0.005],[1518,-0.02],[1523,-0.01],[1528,-0.03],[1533,-0.005],[1538,-0.025],[1543,-0.015],[1548,-0.035],[1553,-0.01],[1558,-0.025],[1563,0.0],[1568,-0.02],[1573,-0.01],[1578,-0.03],[1583,0.005],[1588,-0.02],[1593,-0.005],[1598,-0.025],[1603,-0.01],[1608,-0.03],[1613,0.0],[1618,-0.02],[1623,-0.01],[1628,-0.035],[1633,-0.01],[1638,-0.025],[1643,0.01],[1648,-0.015],[1653,-0.03],[1658,-0.01],[1663,-0.03],[1668,-0.005],[1673,-0.025],[1678,0.005],[1683,-0.02],[1688,-0.035],[1693,-0.01],[1698,-0.025],[1703,0.0],[1708,-0.02],[1713,-0.035],[1718,-0.005],[1723,-0.03],[1728,-0.015],[1733,0.005],[1738,-0.025],[1743,-0.01],[1748,-0.035],[1753,-0.015],[1758,0.0],[1763,-0.02],[1768,-0.035],[1773,-0.01],[1778,-0.03],[1783,-0.005],[1788,-0.025],[1793,-0.015],[1798,-0.03],[1802,-0.015],[1807,-0.03],[1812,-0.02],[1816,-0.044],[1820,-0.051],[1825,-0.03],[1829,-0.045],[1834,-0.015],[1838,-0.04],[1843,-0.02],[1847,-0.05],[1852,-0.03],[1857,-0.045],[1861,-0.02],[1866,-0.005],
[1875,-0.004],[1885,-0.006],[1895,-0.003],[1905,-0.008],[1911,-0.009],[1920,-0.005],[1930,-0.01],[1938,-0.015],[1945,-0.008],[1957,-0.002],[1965,-0.004],[1975,0.003],[1990,0.002],[2010,0.004],[2030,0.002],[2050,0.003],[2070,0.002],[2093,0.003],[2100,0.01],[2107,0.137],[2112,0.01],[2120,0.003],[2127,0.006],[2134,0.009],[2145,0.008],[2155,0.006],[2166,0.002],[2185,0.0],[2220,-0.001],[2260,-0.002],[2300,-0.001],[2340,-0.002],[2378,-0.001]];

const hartcode = [[0,0.005],[4,-0.015],[8,0.01],[12,-0.012],[16,0.012],[20,-0.015],[24,0.008],[28,-0.01],[32,0.012],[36,-0.012],[40,0.01],[44,-0.015],[48,0.008],[52,-0.01],[56,0.01],[60,-0.012],[64,0.012],[68,-0.008],[72,0.015],[76,-0.01],[80,0.012],[84,-0.008],[88,0.01],[92,-0.012],[96,0.015],[100,-0.01],[104,0.015],[108,-0.01],[112,0.018],[116,-0.008],[120,0.015],[124,-0.005],[128,0.02],[132,-0.005],[136,0.02],[140,0.0],[144,0.022],[148,0.005],[152,0.025],[156,0.035],[160,0.02],[164,0.03],[168,0.032],[172,0.022],[176,0.03],[180,0.025],[184,0.032],[188,0.02],[192,0.028],[196,0.022],[200,0.026],
[205,0.018],[210,0.022],[215,0.014],[220,0.018],[225,0.012],[230,0.016],[235,0.008],[240,0.012],[244,0.02],[248,0.035],[251,0.0],[254,-0.015],[257,0.008],[260,0.015],[265,0.012],[270,0.014],[275,0.01],[280,0.012],[285,0.005],[290,0.008],[295,0.014],[300,0.012],[305,0.018],[310,0.014],[315,0.02],[320,0.012],[325,0.018],[330,0.015],[335,0.02],[340,0.014],[345,0.018],[350,0.015],[355,0.02],[360,0.016],[365,0.018],[370,0.015],[375,0.02],[380,0.016],[385,0.031],[388,0.016],[395,0.018],[400,0.016],
[410,0.018],[418,0.016],[423,0.035],[427,0.02],[435,0.017],[445,0.018],[452,0.02],[457,0.03],[461,0.024],[466,0.03],[470,0.02],[480,0.018],[490,0.017],[495,0.028],[499,0.017],[510,0.016],[520,0.015],[530,0.016],[541,0.022],[545,0.015],[555,0.014],[565,0.015],[575,0.014],[585,0.016],[595,0.018],[600,0.017],
[610,0.018],[620,0.02],[630,0.019],[640,0.021],[647,0.023],[655,0.022],[665,0.024],[672,0.026],[680,0.025],[688,0.028],[692,0.03],[695,0.055],[698,0.03],[705,0.032],[712,0.035],[718,0.03],[722,0.037],[728,0.03],[734,0.033],[740,0.028],[747,0.039],[750,0.025],[756,0.021],[765,0.02],[772,0.021],[778,0.03],[785,0.034],[792,0.037],[798,0.038],[801,0.055],[804,0.071],[807,0.04],[814,0.038],[820,0.04],[826,0.036],[832,0.025],[838,0.015],[845,0.011],[855,0.01],[865,0.009],[875,0.008],[888,0.016],[892,0.008],[905,0.007],[920,0.007],[938,0.015],[942,0.007],[960,0.006],[975,0.007],[990,0.007],[1005,0.008],[1020,0.009],[1040,0.01],[1060,0.009],[1080,0.011],[1100,0.01],[1115,0.012],[1125,0.016],[1135,0.014],[1145,0.018],[1155,0.016],[1165,0.02],[1175,0.025],[1185,0.03],[1190,0.038],[1195,0.036],[1200,0.04],
[1205,0.03],[1210,0.038],[1215,0.028],[1220,0.036],[1225,0.012],[1232,0.01],[1240,0.009],[1248,0.01],[1256,0.009],[1261,0.032],[1265,0.015],[1270,0.03],[1274,0.012],[1279,0.032],[1284,0.015],[1290,0.01],[1296,0.013],[1302,0.009],[1308,0.011],[1316,0.034],[1320,0.015],[1326,0.02],[1332,0.014],[1338,0.02],[1344,0.015],[1350,0.022],[1356,0.016],[1362,0.02],[1368,0.015],[1374,0.022],[1380,0.018],[1386,0.022],[1392,0.015],[1398,0.02],[1404,0.017],[1410,0.022],[1416,0.018],[1420,0.04],[1425,0.033],[1430,0.042],[1434,0.036],[1438,0.038],[1443,0.03],[1450,0.033],[1456,0.028],[1462,0.032],[1468,0.027],[1474,0.033],[1480,0.028],[1486,0.031],[1492,0.026],[1498,0.03],[1504,0.028],[1510,0.032],[1516,0.027],[1522,0.033],[1529,0.04],[1535,0.045],[1540,0.038],[1546,0.042],[1552,0.036],[1558,0.043],[1564,0.035],[1570,0.045],[1576,0.038],[1582,0.044],[1588,0.04],[1594,0.05],[1597,0.046],[1602,0.035],[1608,0.03],[1614,0.036],[1620,0.029],[1626,0.034],[1632,0.028],[1638,0.033],[1644,0.028],[1650,0.03],[1657,0.036],[1663,0.044],[1669,0.04],[1675,0.038],[1681,0.045],[1687,0.032],[1693,0.044],[1699,0.03],[1705,0.036],[1711,0.03],[1717,0.045],[1723,0.036],[1729,0.044],[1735,0.035],[1741,0.042],[1747,0.036],[1753,0.045],[1759,0.035],[1765,0.038],[1768,0.03],[1770,0.07],[1774,0.06],[1778,0.04],[1782,0.054],[1786,0.05],[1788,0.03],[1792,0.05],[1795,0.06],[1797,0.07],[1800,0.06],[1804,0.05],[1810,0.046],[1816,0.05],[1820,0.043],[1825,0.067],[1829,0.05],[1834,0.048],[1838,0.045],[1843,0.043],[1847,0.05],[1852,0.06],[1857,0.048],[1861,0.044],[1864,0.03],[1866,0.005],
[1872,0.004],[1880,0.006],[1888,0.005],[1896,0.008],[1904,0.01],[1912,0.012],[1920,0.015],[1928,0.018],[1935,0.02],[1942,0.024],[1948,0.022],[1955,0.02],[1962,0.014],[1970,0.008],[1975,0.005],[1982,0.0],[1988,0.004],[1994,-0.004],[2000,0.002],[2006,-0.008],[2012,0.0],[2018,-0.006],[2024,0.003],[2030,-0.01],[2036,-0.002],[2042,-0.012],[2048,0.0],[2054,-0.01],[2060,-0.004],[2066,-0.014],[2072,-0.006],[2078,-0.012],[2084,-0.002],[2088,-0.015],[2093,-0.008],[2097,-0.005],[2101,0.12],[2105,0.35],[2115,0.3],[2123,0.2],[2130,0.11],[2136,0.075],[2142,0.045],[2145,0.014],[2155,0.01],[2165,0.007],[2175,0.005],[2188,0.002],[2200,0.001],[2220,0.002],[2240,0.001],[2260,0.002],[2280,0.003],[2300,0.002],[2320,0.004],[2326,0.008],[2332,0.003],[2338,0.01],[2344,0.004],[2350,0.012],[2356,0.003],[2362,0.008],[2368,0.005],[2378,0.006]];

const sigmaIasi = [[0,0.005],[4,-0.012],[8,0.01],[12,-0.015],[16,0.012],[20,-0.01],[24,0.015],[28,-0.015],[32,0.01],[36,-0.012],[40,0.015],[44,-0.01],[48,0.012],[52,-0.015],[56,0.01],[60,-0.01],[64,0.015],[68,-0.012],[72,0.01],[76,-0.015],[80,0.01],[84,-0.012],[88,0.014],[92,-0.015],[96,0.012],[100,-0.018],[104,0.012],[108,-0.015],[112,0.014],[116,-0.012],[120,0.015],[124,-0.016],[128,0.014],[132,-0.013],[136,0.016],[140,-0.015],[144,0.015],[148,-0.012],[152,0.018],[156,-0.01],[160,0.02],[164,-0.01],[168,0.02],[172,-0.008],[176,0.022],[180,-0.005],[184,0.02],[188,-0.01],[192,0.018],[196,-0.01],
[200,0.015],[204,-0.015],[208,0.018],[212,-0.02],[216,0.015],[220,-0.025],[224,0.01],[228,-0.03],[232,0.005],[236,-0.04],[240,0.0],[244,-0.03],[247,0.04],[249,0.01],[252,-0.045],[255,0.01],[258,-0.05],[261,0.005],[264,-0.055],[267,0.0],[270,-0.058],[273,-0.061],[276,0.0],[279,-0.055],[282,-0.01],[285,-0.05],[288,0.005],[291,-0.045],[294,0.0],[297,-0.045],[300,-0.005],[304,-0.045],[308,-0.01],[312,-0.04],[316,-0.005],[320,-0.036],[325,-0.01],[330,-0.035],
[335,-0.01],[340,-0.035],[345,-0.012],[350,-0.03],[355,-0.01],[360,-0.028],[365,-0.012],[370,-0.025],[375,-0.01],[380,-0.022],[386,-0.008],[392,-0.018],[398,-0.006],[404,-0.012],[410,-0.005],[420,-0.008],[430,-0.003],[440,-0.005],[455,-0.002],[470,0.0],[490,0.001],
[520,0.003],[550,0.004],[580,0.006],[600,0.008],[620,0.009],[650,0.011],[680,0.012],[710,0.013],[740,0.014],[760,0.013],[783,0.01],[810,0.01],[840,0.01],[874,0.01],[900,0.007],[930,0.006],[960,0.006],[988,0.006],[1000,0.01],[1011,0.013],[1025,0.016],[1040,0.018],[1056,0.018],[1070,0.02],[1079,0.021],[1088,0.021],[1095,0.015],[1102,0.012],[1110,0.01],[1120,0.016],[1130,0.008],[1147,0.005],[1160,0.002],[1175,0.004],[1190,-0.002],[1202,0.0],
[1215,-0.002],[1230,-0.003],[1245,-0.004],[1256,-0.002],[1261,0.01],[1266,-0.012],[1271,0.008],[1276,-0.015],[1281,0.011],[1286,-0.01],[1291,0.015],[1296,-0.005],[1299,0.037],[1303,0.0],[1308,0.02],[1313,-0.005],[1318,0.025],[1323,0.005],[1328,0.03],[1333,0.01],[1338,0.033],[1343,0.005],[1347,0.033],[1352,0.01],[1357,0.03],[1362,0.0],[1366,0.025],[1370,0.036],[1374,0.01],[1378,0.03],[1383,0.005],[1388,0.028],[1393,0.01],[1398,0.032],[1402,0.015],[1407,0.03],[1412,0.0],[1417,0.025],[1422,0.005],[1427,0.03],[1432,0.005],[1437,0.028],[1442,0.0],[1447,0.025],[1452,0.01],[1457,0.03],[1462,0.0],[1467,0.022],[1472,-0.005],[1477,0.02],[1482,0.005],[1487,0.03],[1492,0.0],[1497,0.025],[1502,-0.005],[1507,0.02],[1512,0.005],[1517,0.025],[1522,-0.005],[1527,0.015],[1532,-0.01],[1537,0.02],[1542,0.0],[1547,0.025],[1552,-0.005],[1557,0.02],[1562,-0.01],[1567,0.015],[1572,0.0],[1577,0.025],[1582,-0.008],[1587,0.015],[1592,0.0],[1597,0.02],[1602,-0.01],[1607,0.015],[1612,-0.005],[1617,0.02],[1622,-0.01],[1627,0.01],[1630,0.03],[1634,-0.005],[1639,0.015],[1644,-0.01],[1649,0.012],[1654,-0.005],[1659,0.018],[1664,-0.01],[1669,0.01],[1674,-0.015],[1679,0.012],[1684,-0.008],[1689,0.015],[1694,-0.01],[1699,0.01],[1704,-0.012],[1709,0.014],[1714,-0.008],[1719,0.018],[1722,0.024],[1727,-0.01],[1732,0.012],[1737,-0.012],[1742,0.015],[1747,-0.005],[1752,0.01],[1757,-0.015],[1762,0.012],[1767,-0.008],[1772,0.015],[1777,-0.01],[1782,0.01],[1787,-0.005],[1792,0.012],[1797,-0.01],[1802,0.0],[1806,-0.04],[1809,0.0],[1811,0.03],[1814,-0.03],[1818,-0.02],[1822,-0.06],[1826,-0.03],[1830,-0.07],[1834,-0.04],[1838,-0.08],[1842,-0.05],[1846,-0.07],[1850,-0.04],[1854,-0.075],[1858,-0.03],[1862,-0.06],[1864,-0.02],[1866,0.015],
[1872,0.012],[1880,0.016],[1888,0.018],[1895,0.02],[1902,0.022],[1910,0.025],[1915,0.022],[1920,0.028],[1925,0.025],[1930,0.03],[1935,0.038],[1940,0.033],[1945,0.03],[1950,0.025],[1955,0.02],[1960,0.012],[1966,0.005],[1970,-0.005],[1975,-0.036],[1980,-0.04],[1986,-0.045],[1993,-0.053],[1998,-0.058],[2002,-0.064],[2008,-0.07],[2013,-0.083],[2018,-0.053],[2023,-0.058],[2029,-0.064],[2034,-0.072],[2038,-0.08],[2043,-0.078],[2048,-0.085],[2054,-0.09],[2058,-0.08],[2063,-0.066],[2068,-0.075],[2072,-0.078],[2077,-0.07],[2082,-0.074],[2088,-0.072],[2093,-0.061],[2097,-0.03],[2100,0.0],[2104,0.08],[2107,0.18],[2110,0.05],[2114,0.0],[2118,-0.004],[2125,-0.005],[2132,-0.008],[2140,-0.012],[2147,-0.013],[2160,-0.014],[2175,-0.015],[2190,-0.015],[2200,-0.016],[2211,-0.015],[2225,-0.011],[2240,-0.01],[2255,-0.01],[2270,-0.009],[2279,-0.005],[2290,-0.008],[2305,-0.01],[2320,-0.012],[2335,-0.01],[2350,-0.011],[2365,-0.01],[2378,-0.012]];

const seriesData = [rttov7, arts, flbl, gastropod, lblrtm, optran, oss, sarta, a4, hartcode, sigmaIasi];
const seriesColors = ['#ff0000','#00ff00','#0000ff','#ffff00','#bc8f8f','#9400d3','#00ffff','#ff8c00','#660040','#48d1cc','#55bb35'];
const seriesWidths = [2.6,2.6,2.6,2.6,2.6,2.6,1.5,2.6,2.6,2.6,2.6];

const X_MIN = 0, X_MAX = 2378, Y_MIN = -0.3, Y_MAX = 0.3;

const chart = echarts.init(document.getElementById('chart'), null, {renderer: 'canvas'});

function yFmt(v) {
  if (Math.abs(v) < 1e-9) return '0.0';
  return (v < 0 ? '\u2212' : '') + Math.abs(v).toFixed(1);
}

const FONT = 'Liberation Sans, Arial, Helvetica, sans-serif';

function xAx(pos, major, show) {
  return {
    type: 'value', position: pos, min: X_MIN, max: X_MAX,
    interval: major ? 500 : 100,
    axisLine: {show: show, onZero: false, lineStyle: {color: pos === 'bottom' ? '#555' : '#777', width: 2}},
    axisTick: {show: true, inside: true, length: major ? 15 : 8, lineStyle: {color: '#222', width: 1.5}},
    axisLabel: {show: major && pos === 'bottom', fontSize: 43, color: '#000', fontFamily: FONT, margin: 17, showMaxLabel: false,
      formatter: v => (xTicks.indexOf(v) >= 0 ? String(v) : '')},
    splitLine: {show: false},
    name: (major && pos === 'bottom') ? 'AIRS channel number' : '',
    nameLocation: 'middle', nameGap: 76,
    nameTextStyle: {fontSize: 45, color: '#000', fontFamily: FONT}
  };
}
function yAx(pos, major, show) {
  return {
    type: 'value', position: pos, min: Y_MIN, max: Y_MAX,
    interval: major ? 0.1 : 0.05,
    axisLine: {show: show, onZero: false, lineStyle: {color: pos === 'left' ? '#111' : '#333', width: 2}},
    axisTick: {show: true, inside: true, length: major ? 15 : 8, lineStyle: {color: '#222', width: 1.5}},
    axisLabel: {show: major && pos === 'left', fontSize: 33, color: '#000', fontFamily: FONT, margin: 23,
      formatter: v => {
        const hit = yTicks.find(t => Math.abs(t - v) < 1e-6);
        return hit === undefined ? '' : yFmt(hit);
      }},
    splitLine: {show: false},
    name: (major && pos === 'left') ? 'Model \u2013 RFM (degK)' : '',
    nameLocation: 'middle', nameGap: 128,
    nameTextStyle: {fontSize: 35, color: '#000', fontFamily: FONT}
  };
}

const option = {
  backgroundColor: '#ffffff',
  animation: false,
  title: {
    text: 'Mean of difference for 51 profiles',
    left: 962, top: 82, padding: 0,
    textStyle: {fontFamily: 'Liberation Serif, Times New Roman, serif', fontWeight: 'bold', fontSize: 48, color: '#0b0b6b', lineHeight: 48}
  },
  legend: {
    orient: 'vertical', left: 568, top: 47.5, padding: 0,
    itemWidth: 49, itemHeight: 3, itemGap: 4.7,
    icon: 'rect',
    data: seriesNames,
    textStyle: {fontSize: 20, color: '#000', fontFamily: FONT, lineHeight: 20, padding: [0, 0, 0, 7]},
    selectedMode: false
  },
  grid: {left: 177, top: 22, width: 1743, height: 1216, containLabel: false, outerBoundsMode: 'none'},
  xAxis: [xAx('bottom', true, true), xAx('bottom', false, false), xAx('top', true, true), xAx('top', false, false)],
  yAxis: [yAx('left', true, true), yAx('left', false, false), yAx('right', true, true), yAx('right', false, false)],
  series: seriesNames.map((name, i) => ({
    name: name,
    type: 'line',
    xAxisIndex: 0, yAxisIndex: 0,
    data: seriesData[i],
    showSymbol: false, symbol: 'none',
    clip: true,
    lineStyle: {color: seriesColors[i], width: seriesWidths[i]},
    itemStyle: {color: seriesColors[i]},
    emphasis: {disabled: true},
    silent: true
  }))
};
chart.setOption(option);
</script>
</body>
</html>
